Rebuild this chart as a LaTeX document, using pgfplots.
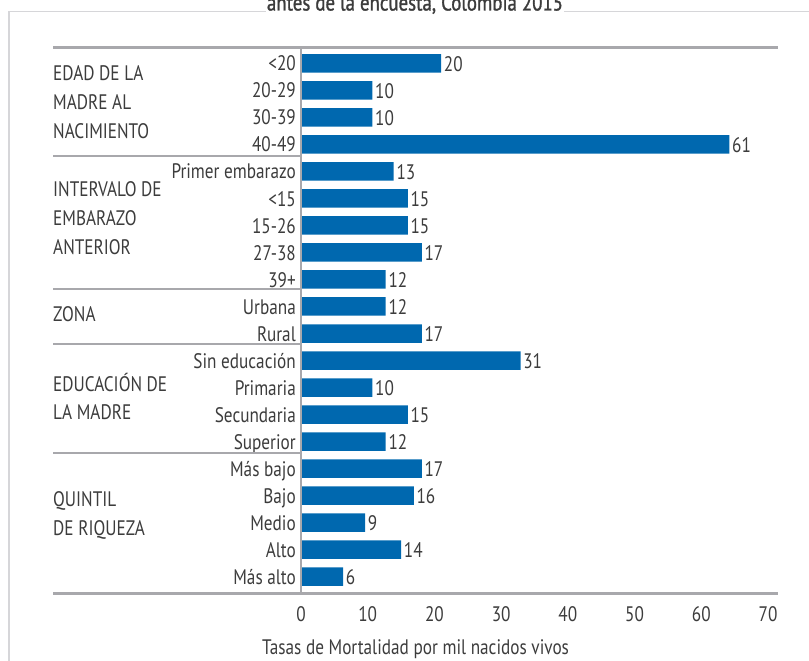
\documentclass[border=0pt]{standalone}
\usepackage{fontspec}
\setmainfont{PT Sans}[FakeStretch=0.82]
\newfontfamily\titlefont{PT Sans}[FakeStretch=0.82,FakeBold=1.2]
\usepackage{pgfplots}
\pgfplotsset{compat=1.18}
\definecolor{barblue}{RGB}{0,104,175}
\definecolor{txt}{RGB}{60,60,60}
\definecolor{axgray}{RGB}{168,168,172}
\definecolor{framegray}{RGB}{214,214,217}
\newcommand{\lbl}{\fontsize{21}{28.7}\selectfont}
\begin{document}
\begin{tikzpicture}
\path[use as bounding box] (0,0) rectangle (809pt,-661pt);
\draw[framegray, line width=1.2pt] (9pt,-661pt) -- (9pt,-11.3pt) -- (809pt,-11.3pt);
\node[anchor=base, fill=white, inner xsep=1pt, inner ysep=1.5pt, text=txt] at (415pt,-10.5pt) {\titlefont\fontsize{23}{28}\selectfont antes de la encuesta, Colombia 2015};
\begin{axis}[
  at={(301pt,-593.3pt)}, anchor=south west,
  scale only axis, width=476.7pt, height=545.6pt,
  xmin=0, xmax=71.45, ymin=-0.577, ymax=19.615, y dir=reverse,
  xbar, bar width=18.5pt,
  axis line style={draw=none},
  major tick length=0pt,
  xtick={0,10,...,70}, xticklabels={0,10,20,30,40,50,60,70},
  ytick={0,...,19},
  yticklabels={<20,20-29,30-39,40-49,Primer embarazo,<15,15-26,27-38,39+,Urbana,Rural,Sin educación,Primaria,Secundaria,Superior,Más bajo,Bajo,Medio,Alto,Más alto},
  xticklabel style={font=\lbl, text=txt, anchor=north, inner sep=0pt, yshift=-13.4pt},
  yticklabel style={font=\lbl, text=txt, anchor=base east, inner sep=0pt, xshift=-5pt, yshift=-7.6pt},
  xlabel={Tasas de Mortalidad por mil nacidos vivos},
  xlabel style={font=\lbl, text=txt, at={(axis description cs:0.2403,0)}, anchor=base, inner sep=0pt, yshift=-61.5pt},
  clip=false,
  nodes near coords, point meta=explicit symbolic,
  every node near coord/.style={anchor=base west, font=\lbl, text=txt, inner sep=2.6pt, yshift=-8pt},
]
\addplot[fill=barblue, draw=none] coordinates {
(21.0,0) [20]
(10.7,1) [10]
(10.7,2) [10]
(64.2,3) [61]
(13.9,4) [13]
(16.0,5) [15]
(16.0,6) [15]
(18.1,7) [17]
(12.7,8) [12]
(12.7,9) [12]
(18.1,10) [17]
(32.9,11) [31]
(10.7,12) [10]
(16.0,13) [15]
(12.7,14) [12]
(18.1,15) [17]
(16.9,16) [16]
(9.6,17) [9]
(15.0,18) [14]
(6.3,19) [6]
};
\end{axis}
% axis lines
\draw[axgray, line width=3pt] (53pt,-47.7pt) -- (777.7pt,-47.7pt);
\draw[axgray, line width=3pt] (53pt,-593.3pt) -- (777.7pt,-593.3pt);
\draw[axgray, line width=2.2pt] (301pt,-46.2pt) -- (301pt,-594.8pt);
% group separators
\foreach \yy in {156,289.3,344.3,452.7} \draw[axgray, line width=1.8pt] (53pt,-\yy pt) -- (300pt,-\yy pt);
% group labels
\begin{scope}[every node/.style={anchor=base west, inner sep=0pt, text=txt, font=\lbl}]
\node at (53pt,-80.7pt) {EDAD DE LA};
\node at (53pt,-110pt) {MADRE AL};
\node at (53pt,-138.5pt) {NACIMIENTO};
\node at (53pt,-196.7pt) {INTERVALO DE};
\node at (53pt,-225.7pt) {EMBARAZO};
\node at (53pt,-254.3pt) {ANTERIOR};
\node at (53pt,-321.7pt) {ZONA};
\node at (53pt,-391pt) {EDUCACIÓN DE};
\node at (53pt,-419.3pt) {LA MADRE};
\node at (53pt,-506.7pt) {QUINTIL};
\node at (53pt,-535.3pt) {DE RIQUEZA};
\end{scope}
\end{tikzpicture}
\end{document}
